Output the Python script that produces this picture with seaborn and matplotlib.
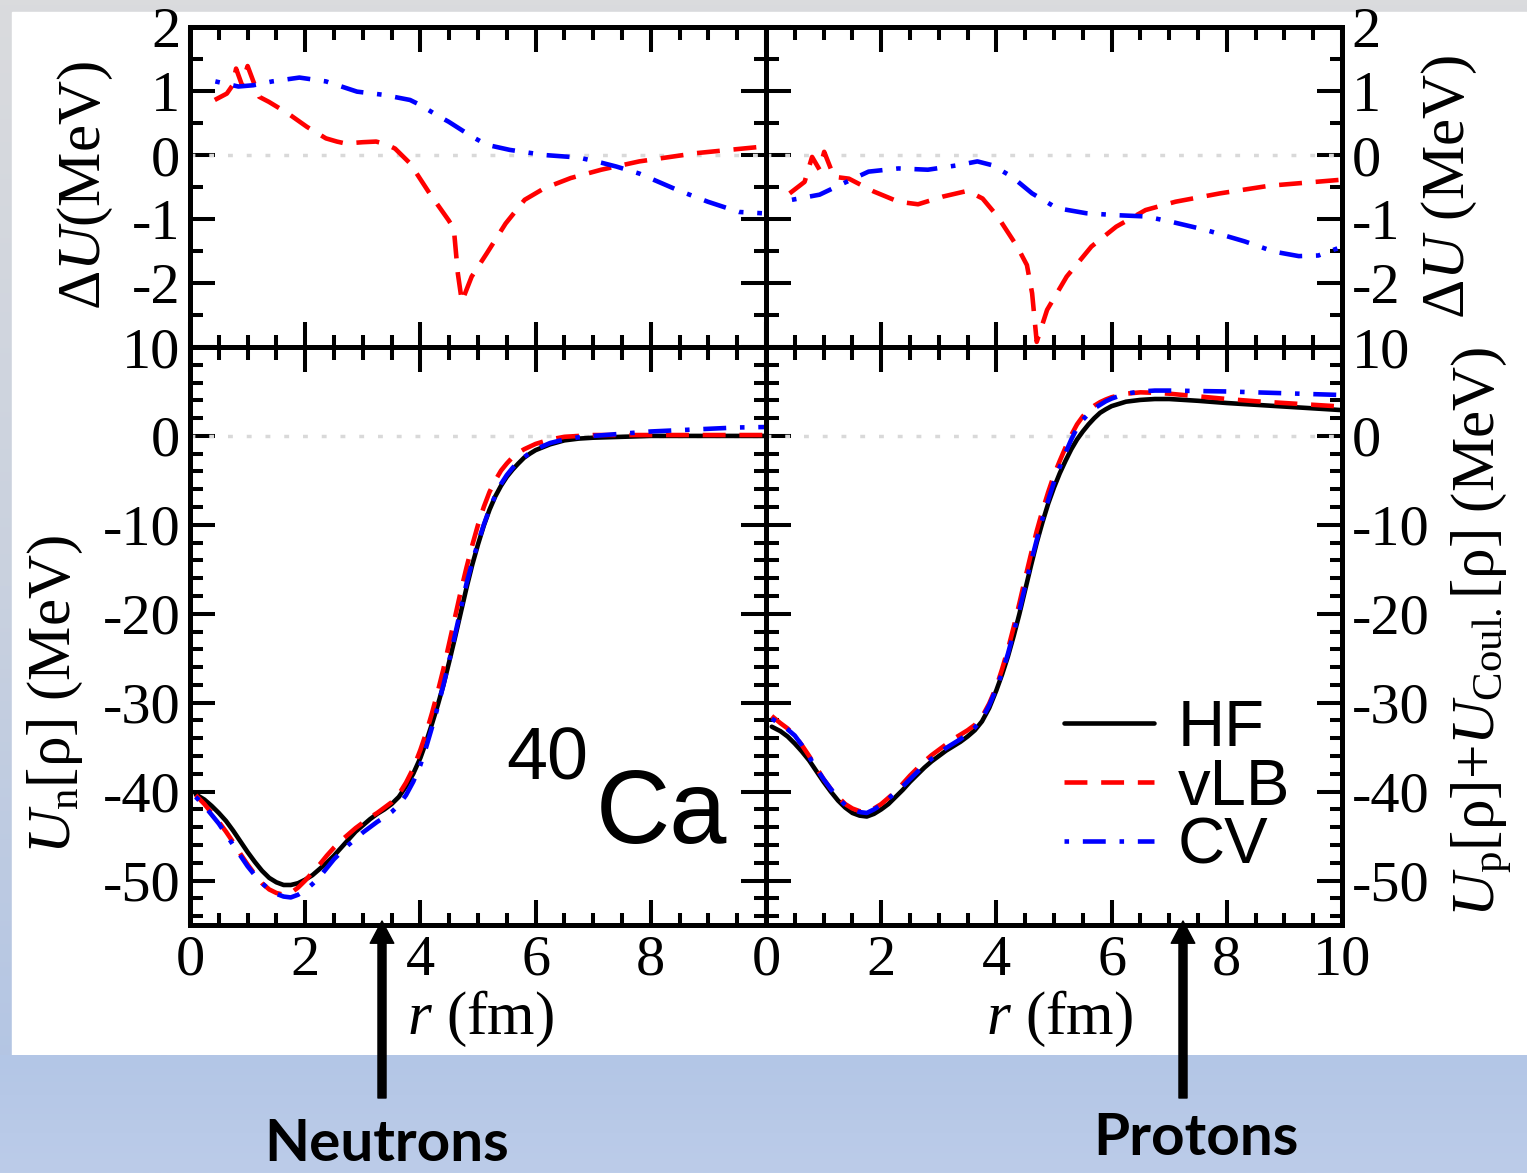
import numpy as np
import pandas as pd
import matplotlib
matplotlib.use("Agg")
import matplotlib.pyplot as plt
import seaborn as sns
from matplotlib.ticker import MultipleLocator, FuncFormatter
from matplotlib.lines import Line2D
from matplotlib.patches import Rectangle, FancyArrowPatch
from matplotlib.colors import LinearSegmentedColormap

# ---------------------------------------------------------------- data
# radial grid (fm) for the mean-field potentials
r_pot = [0.1, 0.25, 0.375, 0.5, 0.625, 0.75, 0.875, 1.0, 1.125, 1.25, 1.375,
         1.5, 1.625, 1.75, 1.875, 2.0, 2.125, 2.25, 2.375, 2.5, 2.625, 2.75,
         2.875, 3.0, 3.125, 3.25, 3.375, 3.5, 3.625, 3.75, 3.875, 4.0, 4.1,
         4.2, 4.3, 4.4, 4.5, 4.6, 4.7, 4.8, 4.9, 5.0, 5.1, 5.2, 5.3, 5.4, 5.5,
         5.6, 5.7, 5.8, 5.9, 6.0, 6.25, 6.5, 6.75, 7.0, 7.5, 8.0, 8.5, 9.0,
         9.5, 10.0]

# neutron potential U_n (MeV)
un_hf = [-40.3, -40.9, -41.6, -42.4, -43.3, -44.4, -45.6, -46.8, -47.9, -48.9,
         -49.7, -50.2, -50.5, -50.5, -50.3, -49.9, -49.4, -48.7, -48.0, -47.2,
         -46.3, -45.4, -44.5, -43.8, -43.1, -42.5, -42.0, -41.4, -40.6, -39.4,
         -38.0, -36.2, -34.4, -32.4, -30.3, -28.0, -25.4, -22.7, -19.9, -17.1,
         -14.5, -12.2, -10.1, -8.3, -6.8, -5.6, -4.6, -3.8, -3.1, -2.45, -2.0,
         -1.6, -0.95, -0.5, -0.3, -0.2, -0.1, 0.0, 0.0, 0.0, 0.0, 0.0]
un_vlb = [-40.4, -41.4, -42.4, -43.4, -44.5, -45.7, -47.0, -48.2, -49.3, -50.3,
          -51.0, -51.4, -51.6, -51.4, -50.8, -50.0, -49.1, -48.2, -47.2, -46.3,
          -45.5, -44.8, -44.1, -43.5, -42.9, -42.4, -41.8, -41.2, -40.3, -39.0,
          -37.4, -35.3, -33.4, -31.2, -28.8, -26.2, -23.3, -20.4, -17.5, -14.8,
          -12.3, -10.0, -8.0, -6.3, -5.0, -3.9, -3.1, -2.4, -1.9, -1.5, -1.2,
          -0.9, -0.4, -0.1, 0.0, 0.1, 0.1, 0.1, 0.1, 0.1, 0.1, 0.1]
un_cv = [-40.6, -41.6, -42.6, -43.6, -44.8, -46.0, -47.2, -48.4, -49.4, -50.3,
         -51.0, -51.5, -51.8, -51.9, -51.6, -51.1, -50.4, -49.6, -48.6, -47.6,
         -46.8, -46.0, -45.3, -44.6, -44.0, -43.4, -42.9, -42.3, -41.5, -40.4,
         -38.9, -37.0, -35.0, -32.8, -30.5, -28.0, -25.3, -22.4, -19.5, -16.6,
         -14.2, -12.0, -10.0, -8.2, -6.7, -5.4, -4.4, -3.6, -2.9, -2.4, -1.9,
         -1.5, -0.8, -0.4, -0.15, 0.0, 0.25, 0.5, 0.65, 0.8, 0.95, 1.0]

# proton potential U_p + U_Coul (MeV)
up_hf = [-32.7, -33.2, -33.8, -34.6, -35.5, -36.5, -37.7, -38.9, -40.0, -41.0,
         -41.8, -42.4, -42.7, -42.8, -42.5, -42.0, -41.4, -40.6, -39.8, -38.9,
         -38.1, -37.3, -36.6, -36.0, -35.4, -34.9, -34.4, -33.8, -33.1, -32.1,
         -30.6, -28.6, -26.8, -24.8, -22.5, -20.0, -17.3, -14.6, -12.0, -9.7,
         -7.6, -5.8, -4.2, -2.8, -1.5, -0.4, 0.5, 1.3, 2.0, 2.6, 3.0, 3.35,
         3.85, 4.05, 4.15, 4.15, 3.95, 3.7, 3.5, 3.3, 3.1, 2.9]
up_vlb = [-31.5, -32.3, -32.9, -33.7, -34.8, -36.0, -37.3, -38.6, -39.7, -40.6,
          -41.4, -41.9, -42.2, -42.3, -41.9, -41.4, -40.7, -40.0, -39.1, -38.2,
          -37.4, -36.6, -35.9, -35.3, -34.7, -34.1, -33.6, -33.1, -32.5, -31.6,
          -30.1, -28.2, -26.2, -24.0, -21.5, -18.8, -16.0, -13.3, -10.7, -8.4,
          -6.3, -4.4, -2.8, -1.3, 0.1, 1.3, 2.2, 2.9, 3.4, 3.8, 4.1, 4.35, 4.75,
          4.9, 4.85, 4.75, 4.45, 4.15, 3.9, 3.7, 3.5, 3.3]
up_cv = [-31.8, -32.4, -33.0, -33.7, -34.8, -36.1, -37.4, -38.6, -39.7, -40.7,
         -41.5, -42.0, -42.3, -42.4, -42.0, -41.5, -40.8, -40.1, -39.4, -38.6,
         -37.8, -37.0, -36.3, -35.7, -35.1, -34.6, -34.1, -33.5, -32.8, -31.8,
         -30.3, -28.4, -26.6, -24.5, -22.1, -19.6, -16.9, -14.2, -11.7, -9.3,
         -7.2, -5.2, -3.5, -1.9, -0.4, 0.9, 1.8, 2.5, 3.1, 3.5, 3.9, 4.2, 4.75,
         5.0, 5.1, 5.1, 5.05, 5.0, 4.9, 4.8, 4.7, 4.6]

# neutron potential differences Delta U (MeV)
r_dn_vlb = [0.43, 0.64, 0.74, 0.80, 0.90, 1.0, 1.2, 1.37, 1.70, 2.03, 2.36,
            2.55, 2.70, 3.0, 3.23, 3.40, 3.56, 3.82, 4.16, 4.49, 4.58, 4.65,
            4.72, 4.89, 5.15, 5.48, 5.81, 6.15, 6.61, 7.14, 7.80, 8.80, 9.93]
dn_vlb = [0.86, 0.96, 1.09, 1.35, 1.10, 1.39, 0.91, 0.83, 0.65, 0.44, 0.26,
          0.21, 0.18, 0.20, 0.21, 0.17, 0.10, -0.13, -0.60, -1.02, -1.15,
          -1.85, -2.29, -1.90, -1.54, -1.07, -0.70, -0.52, -0.36, -0.23,
          -0.10, 0.03, 0.13]
r_dn_cv = [0.44, 0.84, 1.1, 1.43, 1.90, 2.36, 2.9, 3.36, 3.82, 4.0, 4.29,
           4.49, 4.89, 5.15, 5.55, 6.15, 6.75, 7.14, 7.40, 7.80, 8.47, 8.99,
           9.53, 9.93]
dn_cv = [1.15, 1.07, 1.09, 1.15, 1.21, 1.15, 0.99, 0.94, 0.86, 0.78, 0.62,
         0.52, 0.29, 0.16, 0.08, 0.0, -0.04, -0.12, -0.18, -0.29, -0.55, -0.73,
         -0.89, -0.91]

# proton potential differences Delta U (MeV)
r_dp_vlb = [0.41, 0.67, 0.80, 0.93, 1.01, 1.18, 1.44, 1.87, 2.30, 2.64, 3.07,
            3.50, 3.76, 4.02, 4.36, 4.53, 4.62, 4.70, 4.88, 5.22, 5.65, 6.08,
            6.59, 7.11, 7.88, 8.74, 9.94]
dp_vlb = [-0.60, -0.42, -0.03, -0.23, 0.05, -0.34, -0.37, -0.57, -0.73, -0.77,
          -0.65, -0.56, -0.68, -0.96, -1.43, -1.72, -2.16, -2.92, -2.42, -1.90,
          -1.43, -1.12, -0.86, -0.73, -0.60, -0.48, -0.39]
r_dp_cv = [0.45, 0.93, 1.35, 1.78, 2.30, 2.81, 3.33, 3.67, 3.93, 4.27, 4.62,
           5.05, 5.56, 6.08, 6.59, 7.02, 7.63, 8.31, 8.82, 9.25, 9.59, 9.92]
dp_cv = [-0.70, -0.62, -0.44, -0.26, -0.21, -0.23, -0.16, -0.10, -0.16, -0.34,
         -0.60, -0.83, -0.91, -0.94, -0.96, -1.04, -1.17, -1.35, -1.51, -1.58,
         -1.57, -1.46]

models = ["HF", "vLB", "CV"]

# ---------------------------------------------------------------- style
sns.set_theme(style="white")
plt.rcParams.update({
    "font.family": ["Liberation Serif", "DejaVu Serif"],
    "mathtext.fontset": "custom",
    "mathtext.rm": "Liberation Serif",
    "mathtext.it": "Liberation Serif:italic",
    "mathtext.bf": "Liberation Serif:bold",
    "axes.unicode_minus": False,
    "axes.edgecolor": "black",
    "text.color": "black",
    "axes.labelcolor": "black",
    "xtick.color": "black",
    "ytick.color": "black",
})

W, H = 1527, 1173
fig = plt.figure(figsize=(W / 100, H / 100), dpi=100)


def fx(px):
    return px / W


def fy(py):
    return 1 - py / H


# slide background
bg = fig.add_axes([0, 0, 1, 1], zorder=-10)
bg.set_axis_off()
side = LinearSegmentedColormap.from_list("side", ["#dadbdd", "#c9d1df", "#afc3e5"])
bg.imshow(np.linspace(0, 1, 256)[:, None], cmap=side, aspect="auto",
          extent=(0, W, H, 0), zorder=0)
bg.add_patch(Rectangle((12, 12), W - 12, 1055 - 12, color="white", zorder=1))
band = LinearSegmentedColormap.from_list("band", ["#b3c6e6", "#bccce9"])
bg.imshow(np.linspace(0, 1, 64)[:, None], cmap=band, aspect="auto",
          extent=(0, W, H, 1055), zorder=2)
bg.set_xlim(0, W)
bg.set_ylim(H, 0)

# panel geometry (pixels)
XL, XM, XR = 190, 766, 1342
YT, YM, YB = 27, 347, 925
axTL = fig.add_axes([fx(XL), fy(YM), fx(XM - XL), (YM - YT) / H])
axTR = fig.add_axes([fx(XM), fy(YM), fx(XR - XM), (YM - YT) / H])
axBL = fig.add_axes([fx(XL), fy(YB), fx(XM - XL), (YB - YM) / H])
axBR = fig.add_axes([fx(XM), fy(YB), fx(XR - XM), (YB - YM) / H])

LW = 3.3
palette = {"HF": "black", "vLB": "#ff0000", "CV": "#0000ff"}
dashes = {"HF": "", "vLB": (5, 3), "CV": (1, 3, 5, 3)}


def draw(ax, curves):
    df = pd.concat([pd.DataFrame({"r": r, "U": u, "model": m})
                    for m, (r, u) in curves.items()], ignore_index=True)
    order = [m for m in models if m in curves]
    ax.axhline(0, color="#d9d9d9", lw=2.5, dashes=(1.4, 4.0), zorder=1)
    sns.lineplot(data=df, x="r", y="U", hue="model", style="model",
                 hue_order=order, style_order=order, palette=palette,
                 dashes=dashes, lw=LW, estimator=None, sort=False,
                 legend=False, ax=ax, zorder=3, solid_joinstyle="round")


draw(axTL, {"vLB": (r_dn_vlb, dn_vlb), "CV": (r_dn_cv, dn_cv)})
draw(axTR, {"vLB": (r_dp_vlb, dp_vlb), "CV": (r_dp_cv, dp_cv)})
draw(axBL, {"HF": (r_pot, un_hf), "vLB": (r_pot, un_vlb), "CV": (r_pot, un_cv)})
draw(axBR, {"HF": (r_pot, up_hf), "vLB": (r_pot, up_vlb), "CV": (r_pot, up_cv)})


def num(v):
    return f"{v:g}"


TICK_FS = 42
for ax in (axTL, axTR, axBL, axBR):
    ax.set_xlim(0, 10)
    ax.set_xlabel("")
    ax.set_ylabel("")
    ax.set_facecolor("none")
    for sp in ax.spines.values():
        sp.set_linewidth(3.6)
        sp.set_color("black")
    ax.xaxis.set_major_locator(MultipleLocator(2))
    ax.xaxis.set_minor_locator(MultipleLocator(0.5))
    ax.tick_params(which="both", direction="in", top=True, bottom=True,
                   left=True, right=True, width=2.9, labelsize=TICK_FS)
    ax.tick_params(which="major", length=18, pad=7)
    ax.tick_params(which="minor", length=9)

for ax in (axTL, axTR):
    ax.set_ylim(-3, 2)
    ax.yaxis.set_major_locator(MultipleLocator(1))
    ax.yaxis.set_minor_locator(MultipleLocator(0.5))
    ax.yaxis.set_major_formatter(FuncFormatter(lambda v, p: "" if v < -2.5 else num(v)))
    ax.tick_params(labelbottom=False)

for ax in (axBL, axBR):
    ax.set_ylim(-55, 10)
    ax.yaxis.set_major_locator(MultipleLocator(10))
    ax.yaxis.set_minor_locator(MultipleLocator(2))
    ax.yaxis.set_major_formatter(FuncFormatter(lambda v, p: num(v)))

axBL.xaxis.set_major_formatter(FuncFormatter(lambda v, p: "" if v > 9 else num(v)))
axBR.xaxis.set_major_formatter(FuncFormatter(lambda v, p: num(v)))

for ax in (axTR, axBR):
    ax.tick_params(labelleft=False, labelright=True)

LAB_FS = 44
axTL.set_ylabel(r"$\Delta U$(MeV)", fontsize=LAB_FS)
axTL.yaxis.set_label_coords(-0.13, 0.506)
axTR.yaxis.set_label_position("right")
axTR.set_ylabel(r"$\Delta U$ (MeV)", fontsize=LAB_FS)
axTR.yaxis.set_label_coords(1.135, 0.5)
axBL.set_ylabel(r"$U_{\rm n}$[ρ] (MeV)", fontsize=LAB_FS)
axBL.yaxis.set_label_coords(-0.182, 0.398)
axBR.yaxis.set_label_position("right")
axBR.set_ylabel(r"$U_{\rm p}$[ρ]+$U_{\rm Coul.}$[ρ] (MeV)", fontsize=LAB_FS)
axBR.yaxis.set_label_coords(1.187, 0.507)
for ax, xc in ((axBL, 0.504), (axBR, 0.51)):
    ax.set_xlabel(r"$r$ (fm)", fontsize=LAB_FS)
    ax.xaxis.set_label_coords(xc, -0.11)

# nucleus tag
axBL.text(7.04, -45.8, "Ca", fontsize=74, family="Liberation Sans",
          ha="left", va="baseline")
axBL.text(5.49, -38.6, "40", fontsize=53, family="Liberation Sans",
          ha="left", va="baseline")

# legend
handles = [Line2D([], [], color=palette["HF"], lw=LW, ls="-"),
           Line2D([], [], color=palette["vLB"], lw=LW, dashes=dashes["vLB"]),
           Line2D([], [], color=palette["CV"], lw=LW, dashes=dashes["CV"])]
axBR.legend(handles, models, loc="upper left", bbox_to_anchor=(0.518, 0.391),
            frameon=False, prop={"family": "Liberation Sans", "size": 47},
            handlelength=1.38, handletextpad=0.35, labelspacing=-0.02,
            borderpad=0, borderaxespad=0)

# slide annotations
for x_px in (382, 1183):
    arr = FancyArrowPatch((fx(x_px), fy(1098)), (fx(x_px), fy(921)),
                          transform=fig.transFigure, mutation_scale=1,
                          arrowstyle="simple,head_width=17,head_length=16,tail_width=5.8",
                          color="black", shrinkA=0, shrinkB=0, zorder=20)
    fig.add_artist(arr)

fig.text(fx(387), fy(1161), "Neutrons", fontsize=42, family="Lato",
         fontweight="bold", ha="center", va="baseline")
fig.text(fx(1196), fy(1155), "Protons", fontsize=42, family="Lato",
         fontweight="bold", ha="center", va="baseline")

fig.savefig("out.png", dpi=100)
